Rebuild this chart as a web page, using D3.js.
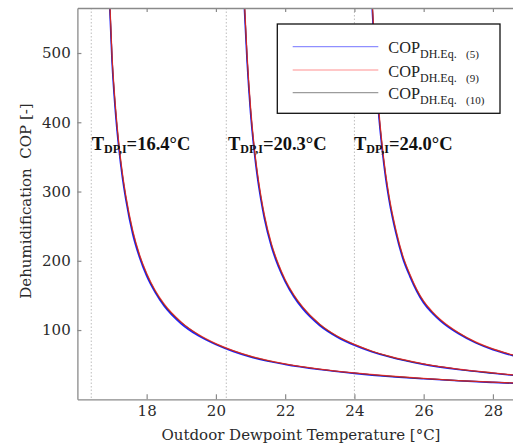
<!DOCTYPE html>
<html>
<head>
<meta charset="utf-8">
<script src="https://cdn.jsdelivr.net/npm/d3@7"></script>
<style>
  html, body { margin: 0; padding: 0; background: #fff; }
  svg { display: block; }
  .tick text { font-family: "DejaVu Serif", serif; font-size: 15px; fill: #2a2a2a; }
</style>
</head>
<body>
<svg id="chart" width="513" height="446"></svg>
<script>
// Indoor dewpoint temperatures (one family of curves each)
const dewpoints = [16.4, 20.3, 24.0];

// Outdoor dewpoint temperatures [°C] sampled along each curve
const tempsA = [16.92, 17.0, 17.1, 17.2, 17.3, 17.4, 17.6, 17.8, 18.0, 18.25, 18.5, 19.0, 19.5, 20.0, 20.5, 21.0, 22.0, 23.0, 24.0, 25.0, 26.0, 27.0, 28.0, 28.6];
const tempsB = [20.82, 20.9, 21.0, 21.1, 21.2, 21.3, 21.4, 21.6, 21.8, 22.0, 22.25, 22.5, 23.0, 23.5, 24.0, 24.5, 25.0, 26.0, 27.0, 28.0, 28.6];
const tempsC = [24.5, 24.6, 24.7, 24.8, 24.9, 25.0, 25.2, 25.4, 25.6, 25.8, 26.0, 26.25, 26.5, 27.0, 27.5, 28.0, 28.6];

// Dehumidification COP, T_DP,I = 16.4 °C
const copA_eq5  = [582, 488, 414, 361, 320, 288, 238, 204, 178, 154, 135, 109, 91.5, 79, 69, 61, 50.3, 43, 37.5, 33, 29.6, 26.7, 24.4, 23.2];
const copA_eq9  = [594, 498, 423, 368, 327, 294, 243.5, 208, 182, 157, 138, 111.5, 93.5, 80.4, 70.3, 62.3, 51.2, 43.7, 38.2, 33.7, 30.1, 27.1, 24.8, 23.6];
const copA_eq10 = [590, 495, 420, 366, 325, 292, 242, 207, 181, 156, 137, 111, 93, 80, 70, 62, 51, 43.5, 38, 33.5, 30, 27, 24.7, 23.5];

// Dehumidification COP, T_DP,I = 20.3 °C
const copB_eq5  = [567, 488, 414, 361, 320, 288, 261, 221, 192, 170, 148, 131, 106.5, 90, 78, 68.7, 61.3, 50.4, 43, 37.6, 34.6];
const copB_eq9  = [579, 498, 423, 368, 327, 294, 266.5, 225.5, 196, 173, 151, 133.7, 108.5, 91.4, 79.3, 69.8, 62.3, 51.2, 43.7, 38.2, 35.1];
const copB_eq10 = [575, 495, 420, 366, 325, 292, 265, 224, 195, 172, 150, 133, 108, 91, 79, 69.5, 62, 51, 43.5, 38, 35];

// Dehumidification COP, T_DP,I = 24.0 °C
const copC_eq5  = [577, 483, 412, 361, 320, 288, 239.5, 203, 177.5, 156, 139, 124.3, 112.5, 94.8, 81.5, 71.6, 62.8];
const copC_eq9  = [589, 493, 421, 368, 327, 294, 244.5, 207, 181, 159, 141.8, 126.7, 114.6, 96.5, 82.9, 72.8, 63.8];
const copC_eq10 = [585, 490, 418, 366, 325, 292, 243, 206, 180, 158, 141, 126, 114, 96, 82.5, 72.5, 63.5];

const xTicks = [18, 20, 22, 24, 26, 28];
const yTicks = [100, 200, 300, 400, 500];
const seriesNames = ["(5)", "(9)", "(10)"];
const seriesColors = ["#1f1fff", "#ff2020", "#3a3a3a"];

const svg = d3.select("#chart");
const plotLeft = 77.4, plotRight = 513.7, plotTop = 8, plotBottom = 399.3;

const x = d3.scaleLinear().domain([16, 28.6]).range([plotLeft, plotRight]);
const y = d3.scaleLinear().domain([0, 565]).range([plotBottom, plotTop]);

// Reference dewpoint markers
svg.append("g").selectAll("line").data(dewpoints).join("line")
  .attr("x1", d => x(d)).attr("x2", d => x(d))
  .attr("y1", plotTop).attr("y2", plotBottom)
  .attr("stroke", "#bdbdbd").attr("stroke-width", 1)
  .attr("stroke-dasharray", "1.5,2");

// Curves
svg.append("clipPath").attr("id", "plot-clip").append("rect")
  .attr("x", plotLeft).attr("y", plotTop)
  .attr("width", plotRight - plotLeft).attr("height", plotBottom - plotTop);

const groups = [
  { t: tempsA, s: [copA_eq5, copA_eq9, copA_eq10] },
  { t: tempsB, s: [copB_eq5, copB_eq9, copB_eq10] },
  { t: tempsC, s: [copC_eq5, copC_eq9, copC_eq10] }
];

const line = d3.line().x(d => x(d[0])).y(d => y(d[1])).curve(d3.curveMonotoneX);
const curves = svg.append("g").attr("clip-path", "url(#plot-clip)");
// draw order: eq.(5) blue, eq.(10) dark grey, eq.(9) red on top
const order = [0, 2, 1];
const widths = [1.6, 1.2, 1.1];
groups.forEach(g => {
  order.forEach(k => {
    curves.append("path")
      .datum(g.t.map((t, i) => [t, g.s[k][i]]))
      .attr("d", line)
      .attr("fill", "none")
      .attr("stroke", seriesColors[k])
      .attr("stroke-width", widths[k])
      .attr("stroke-opacity", k === 1 ? 0.75 : 1);
  });
});

// Axes
const axisColor = "#8a8a8a";
const gx = svg.append("g").attr("transform", `translate(0,${plotBottom})`)
  .call(d3.axisBottom(x).tickValues(xTicks).tickSizeInner(-5).tickSizeOuter(0).tickPadding(6.5));
const gxt = svg.append("g").attr("transform", `translate(0,${plotTop})`)
  .call(d3.axisTop(x).tickValues(xTicks).tickSizeInner(-4).tickSizeOuter(0).tickFormat(""));
const gy = svg.append("g").attr("transform", `translate(${plotLeft},0)`)
  .call(d3.axisLeft(y).tickValues(yTicks).tickSizeInner(-4).tickSizeOuter(0).tickPadding(6.7));
[gx, gxt, gy].forEach(g => {
  g.select(".domain").attr("stroke", axisColor).attr("stroke-width", 1.3);
  g.selectAll(".tick line").attr("stroke", axisColor).attr("stroke-width", 1.2);
});
gx.selectAll(".tick text").attr("dy", "0.71em");

// Axis titles
svg.append("text")
  .attr("x", 301).attr("y", 440)
  .attr("text-anchor", "middle")
  .attr("font-family", "DejaVu Serif, serif").attr("font-size", 15).attr("fill", "#2a2a2a")
  .text("Outdoor Dewpoint Temperature [°C]");

svg.append("text")
  .attr("transform", "translate(31,201) rotate(-90)")
  .attr("text-anchor", "middle")
  .attr("font-family", "DejaVu Serif, serif").attr("font-size", 15).attr("fill", "#2a2a2a")
  .attr("xml:space", "preserve")
  .text("Dehumidification  COP [-]");

// Dewpoint annotations
const labelX = [91.7, 228, 354];
dewpoints.forEach((d, i) => {
  const t = svg.append("text")
    .attr("x", labelX[i]).attr("y", 150)
    .attr("font-family", "Liberation Serif, Times New Roman, serif")
    .attr("font-weight", "bold").attr("font-size", 18.5).attr("fill", "#111");
  t.append("tspan").text("T");
  t.append("tspan").attr("font-size", 12).attr("dy", 3).text("DP,I");
  t.append("tspan").attr("dy", -3).text("=" + d.toFixed(1) + "°C");
});

// Legend
const lg = svg.append("g");
lg.append("rect")
  .attr("x", 277.3).attr("y", 24).attr("width", 222.7).attr("height", 89.3)
  .attr("fill", "#fff").attr("stroke", "#111").attr("stroke-width", 1.3);
const rowY = [46.7, 70, 92.7];
seriesNames.forEach((name, i) => {
  lg.append("line")
    .attr("x1", 292.7).attr("x2", 378.3).attr("y1", rowY[i]).attr("y2", rowY[i])
    .attr("stroke", seriesColors[i]).attr("stroke-width", 1.2).attr("stroke-opacity", 0.5);
  const t = lg.append("text")
    .attr("x", 388.3).attr("y", rowY[i] + 6.6)
    .attr("font-family", "Liberation Serif, Times New Roman, serif")
    .attr("font-size", 16.3).attr("fill", "#222");
  t.append("tspan").text("COP");
  t.append("tspan").attr("font-size", 12).attr("dy", 5).text("DH.Eq.");
  lg.append("text")
    .attr("x", 466).attr("y", rowY[i] + 11.6)
    .attr("font-family", "Liberation Serif, Times New Roman, serif")
    .attr("font-size", 11).attr("fill", "#222")
    .text(name);
});
</script>
</body>
</html>
